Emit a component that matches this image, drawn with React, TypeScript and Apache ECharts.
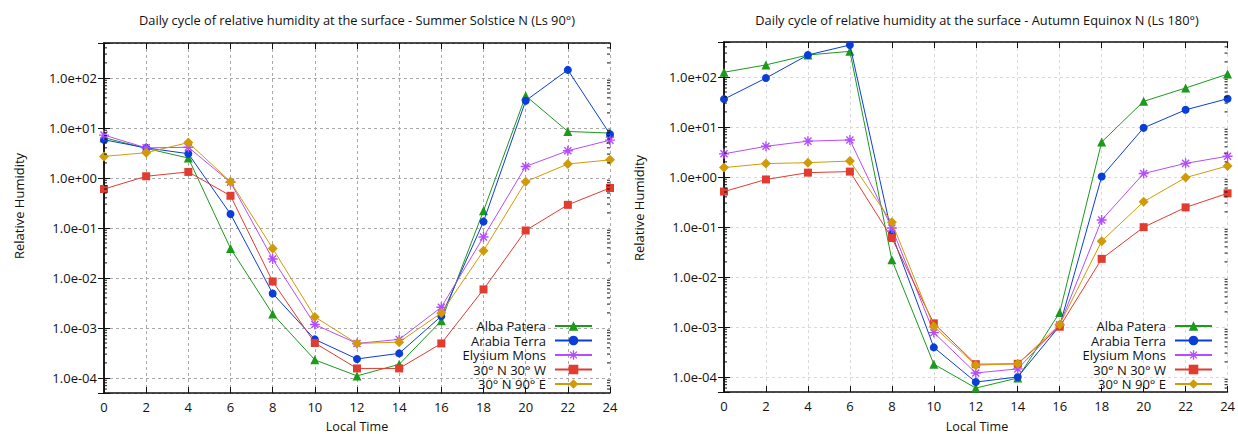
import React, { useEffect, useRef } from 'react';
import * as echarts from 'echarts';

const hours = [0, 2, 4, 6, 8, 10, 12, 14, 16, 18, 20, 22, 24];
const seriesNames = ['Alba Patera', 'Arabia Terra', 'Elysium Mons', '30° N 30° W', '30° N 90° E'];
const seriesColors = ['#1b9a1b', '#0b3ed8', '#b64cff', '#e23b2f', '#d19b08'];

// Summer Solstice N (Ls 90)
const summerAlba = [6.4, 3.9, 2.5, 0.039, 0.0019, 0.00023, 0.00011, 0.000187, 0.00139, 0.22, 44, 8.5, 7.9];
const summerArabia = [5.8, 4.0, 3.05, 0.19, 0.0049, 0.00059, 0.00024, 0.00031, 0.00172, 0.134, 35, 145, 7.5];
const summerElysium = [7.2, 4.0, 4.1, 0.82, 0.024, 0.00117, 0.00049, 0.00059, 0.0026, 0.066, 1.7, 3.5, 5.7];
const summer30W = [0.6, 1.08, 1.32, 0.44, 0.0085, 0.0005, 0.000155, 0.000155, 0.00049, 0.0059, 0.089, 0.29, 0.63];
const summer90E = [2.7, 3.2, 5.1, 0.84, 0.039, 0.00166, 0.00049, 0.00052, 0.002, 0.035, 0.84, 1.9, 2.3];

// Autumn Equinox N (Ls 180)
const autumnAlba = [124, 174, 275, 325, 0.022, 0.00018, 0.00006, 0.000095, 0.00195, 5.0, 32.5, 60, 114];
const autumnArabia = [36, 95, 275, 436, 0.072, 0.00039, 0.000079, 0.0001, 0.00105, 1.02, 9.6, 22, 36.7];
const autumnElysium = [2.9, 4.1, 5.2, 5.5, 0.095, 0.00077, 0.00012, 0.000145, 0.0011, 0.138, 1.17, 1.87, 2.6];
const autumn30W = [0.51, 0.89, 1.22, 1.28, 0.06, 0.00118, 0.00018, 0.000183, 0.00101, 0.023, 0.099, 0.246, 0.47];
const autumn90E = [1.54, 1.85, 1.93, 2.08, 0.124, 0.00102, 0.000172, 0.000183, 0.00112, 0.052, 0.32, 0.97, 1.66];

const panelTitles = [
  'Daily cycle of relative humidity at the surface - Summer Solstice N (Ls 90°)',
  'Daily cycle of relative humidity at the surface - Autumn Equinox N (Ls 180°)',
];
const xAxisTitle = 'Local Time';
const yAxisTitle = 'Relative Humidity';

const Y_MIN = 5e-5;
const Y_MAX = 500;
const minorDecades = [1e-5, 1e-4, 1e-3, 1e-2, 1e-1, 1, 10, 100];
const minorMultipliers = [2, 3, 4, 5, 6, 7, 8, 9];

const FONT = 'Open Sans';

const ASTERISK =
  'path://M5 0.7L5 -0.7L-5 -0.7L-5 0.7Z' +
  'M-0.7 5L0.7 5L0.7 -5L-0.7 -5Z' +
  'M3.04 4.03L4.03 3.04L-3.04 -4.03L-4.03 -3.04Z' +
  'M-4.03 3.04L-3.04 4.03L4.03 -3.04L3.04 -4.03Z';
const seriesSymbols = ['triangle', 'circle', ASTERISK, 'rect', 'diamond'];
const symbolSizes = [9, 8, 10, 8, 10];

const panels = [
  { data: [summerAlba, summerArabia, summerElysium, summer30W, summer90E], left: 104, top: 43, grid: '#a9a9a9' },
  { data: [autumnAlba, autumnArabia, autumnElysium, autumn30W, autumn90E], left: 724, top: 42, grid: '#d9d9d9' },
];
const PLOT_W = 506;
const PLOT_H = 350;

function fmtLog(v: number): string {
  const l = Math.log10(v);
  const e = Math.round(l);
  if (Math.abs(l - e) > 1e-6) return '';
  const sign = e < 0 ? '-' : '+';
  return `1.0e${sign}${String(Math.abs(e)).padStart(2, '0')}`;
}

export default function App() {
  const ref = useRef<HTMLDivElement>(null);
  useEffect(() => {
    if (!ref.current) return;
    const chart = echarts.init(ref.current, undefined, { renderer: 'svg' });
    const minorVals: number[] = [];
    minorDecades.forEach((d) =>
      minorMultipliers.forEach((m) => {
        const v = m * d;
        if (v > Y_MIN * 1.0001 && v < Y_MAX * 0.9999) minorVals.push(v);
      })
    );

    const grids: any[] = [];
    const xAxes: any[] = [];
    const yAxes: any[] = [];
    const series: any[] = [];
    const legends: any[] = [];
    const graphics: any[] = [];
    const axisLine = { show: true, lineStyle: { color: '#111', width: 1.5 } };
    const tick = { show: true, inside: true, length: 6, lineStyle: { color: '#111', width: 1 } };

    panels.forEach((p, pi) => {
      grids.push({ left: p.left, top: p.top, width: PLOT_W, height: PLOT_H, containLabel: false });
      xAxes.push({
        type: 'value', gridIndex: pi, position: 'bottom', min: 0, max: 24, interval: 2,
        axisLine, axisTick: tick,
        axisLabel: { color: '#111', fontSize: 13, fontFamily: FONT, margin: 7 },
        splitLine: { show: true, lineStyle: { color: p.grid, type: [3, 3], width: 1 } },
      });
      xAxes.push({
        type: 'value', gridIndex: pi, position: 'top', min: 0, max: 24, interval: 2,
        axisLine, axisTick: tick, axisLabel: { show: false }, splitLine: { show: false },
      });
      yAxes.push({
        type: 'log', logBase: 10, gridIndex: pi, position: 'left', min: Y_MIN, max: Y_MAX,
        axisLine, axisTick: tick,
        axisLabel: { color: '#111', fontSize: 13, fontFamily: FONT, margin: 7, formatter: fmtLog },
        splitLine: { show: true, lineStyle: { color: p.grid, type: [3, 3], width: 1 } },
      });
      yAxes.push({
        type: 'log', logBase: 10, gridIndex: pi, position: 'right', min: Y_MIN, max: Y_MAX,
        axisLine, axisTick: tick, axisLabel: { show: false }, splitLine: { show: false },
      });
      p.data.forEach((vals, si) => {
        series.push({
          type: 'line',
          name: seriesNames[si],
          xAxisIndex: pi * 2,
          yAxisIndex: pi * 2,
          data: hours.map((h, i) => [h, vals[i]]),
          symbol: seriesSymbols[si],
          symbolSize: symbolSizes[si],
          showAllSymbol: true,
          lineStyle: { color: seriesColors[si], width: 1 },
          itemStyle: { color: seriesColors[si] },
          z: 3 + si,
          clip: true,
        });
      });
      series.push({
        type: 'custom',
        xAxisIndex: pi * 2,
        yAxisIndex: pi * 2,
        silent: true,
        clip: false,
        z: 10,
        data: minorVals.map((v) => [0, v]),
        renderItem: (params: any, api: any) => {
          const cs = params.coordSys;
          const y = api.coord([0, api.value(1)])[1];
          return {
            type: 'group',
            children: [
              { type: 'line', shape: { x1: cs.x, y1: y, x2: cs.x + 3, y2: y }, style: { stroke: '#111', lineWidth: 1 } },
              { type: 'line', shape: { x1: cs.x + cs.width - 3, y1: y, x2: cs.x + cs.width, y2: y }, style: { stroke: '#111', lineWidth: 1 } },
            ],
          };
        },
      });
      legends.push({
        data: seriesNames,
        orient: 'vertical',
        right: pi === 0 ? 645 : 25,
        top: 319,
        align: 'right',
        itemWidth: 37,
        itemHeight: 12,
        itemGap: 0.5,
        padding: 0,
        selectedMode: false,
        textStyle: { fontFamily: FONT, fontSize: 13, color: '#111', lineHeight: 14, padding: [0, 4, 0, 0] },
      });
      const cx = p.left + PLOT_W / 2;
      graphics.push({
        type: 'text', x: cx, y: 20,
        style: { text: panelTitles[pi], fontFamily: FONT, fontSize: 12.8, fill: '#111', align: 'center', verticalAlign: 'middle' },
      });
      graphics.push({
        type: 'text', x: cx, y: 426,
        style: { text: xAxisTitle, fontFamily: FONT, fontSize: 12.6, fill: '#111', align: 'center', verticalAlign: 'middle' },
      });
      graphics.push({
        type: 'text', x: pi === 0 ? 18.5 : 638.5, y: pi === 0 ? 206 : 208, rotation: Math.PI / 2,
        style: { text: yAxisTitle, fontFamily: FONT, fontSize: 13, fill: '#111', align: 'center', verticalAlign: 'middle' },
      });
    });

    chart.setOption({
      animation: false,
      backgroundColor: '#ffffff',
      grid: grids,
      xAxis: xAxes,
      yAxis: yAxes,
      legend: legends,
      series,
      graphic: graphics,
    });
    return () => chart.dispose();
  }, []);
  return <div ref={ref} style={{ position: 'fixed', left: 0, top: 0, width: 1238, height: 434 }} />;
}
